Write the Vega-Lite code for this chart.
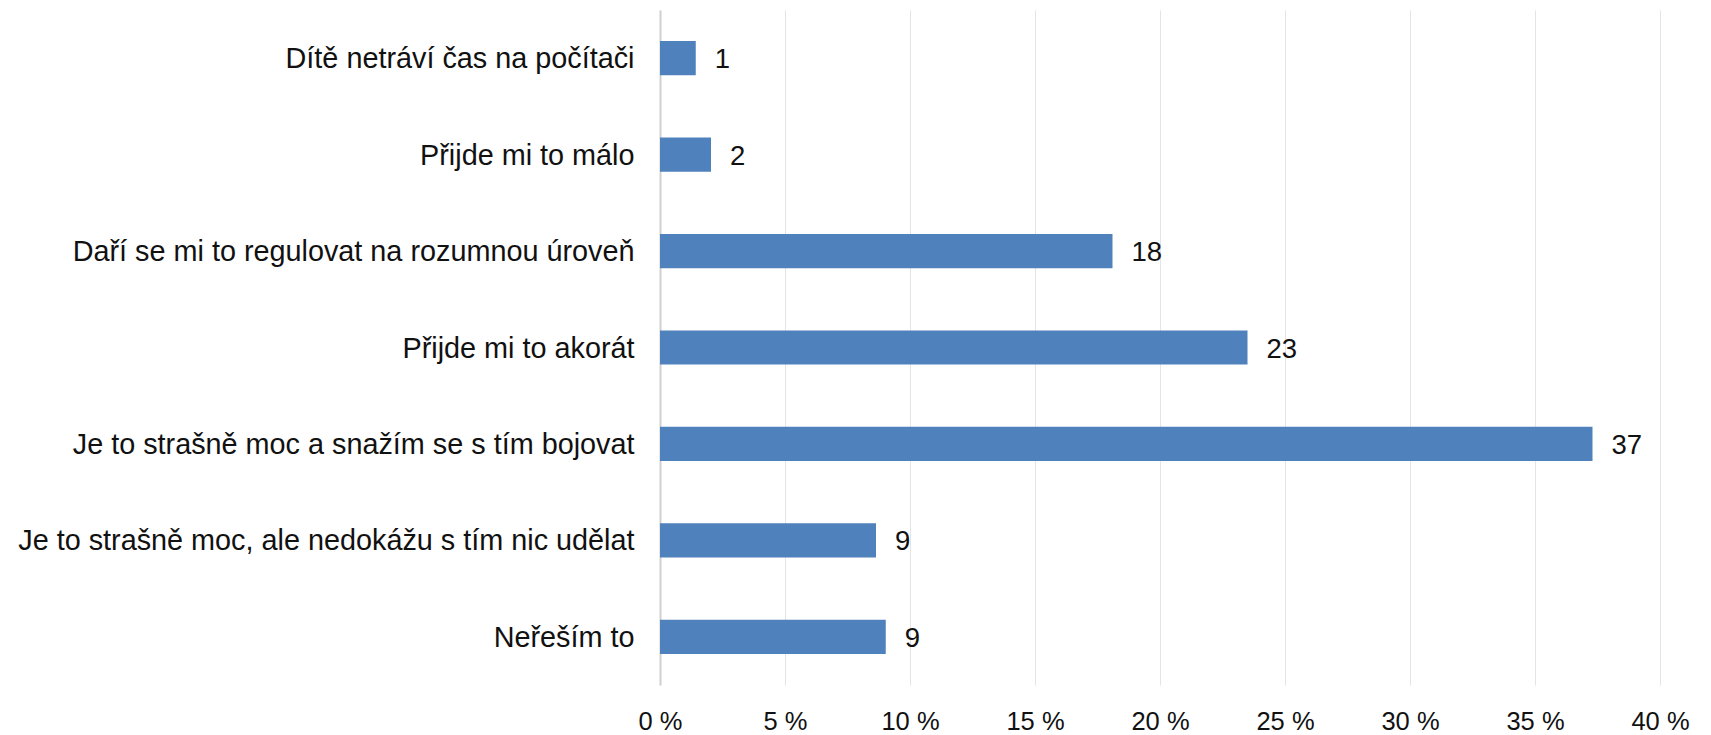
{
  "$schema": "https://vega.github.io/schema/vega-lite/v6.json",
  "width": 1000,
  "height": 675,
  "autosize": {"type": "none"},
  "padding": {"left": 660, "top": 10, "right": 51, "bottom": 50},
  "background": "white",
  "config": {
    "view": {"stroke": null},
    "font": "Liberation Sans"
  },
  "data": {
    "values": [
      {"kategorie": "Dítě netráví čas na počítači", "pct": 1.43, "label": "1"},
      {"kategorie": "Přijde mi to málo", "pct": 2.04, "label": "2"},
      {"kategorie": "Daří se mi to regulovat na rozumnou úroveň", "pct": 18.1, "label": "18"},
      {"kategorie": "Přijde mi to akorát", "pct": 23.5, "label": "23"},
      {"kategorie": "Je to strašně moc a snažím se s tím bojovat", "pct": 37.3, "label": "37"},
      {"kategorie": "Je to strašně moc, ale nedokážu s tím nic udělat", "pct": 8.64, "label": "9"},
      {"kategorie": "Neřeším to", "pct": 9.03, "label": "9"}
    ]
  },
  "encoding": {
    "y": {
      "field": "kategorie",
      "type": "nominal",
      "sort": null,
      "scale": {"paddingInner": 0, "paddingOuter": 0},
      "axis": {
        "title": null,
        "ticks": false,
        "domain": true,
        "domainColor": "#d0d0d0",
        "domainWidth": 2,
        "labelFontSize": 28.8,
        "labelColor": "#111111",
        "labelPadding": 26,
        "labelLimit": 700,
        "labelOffset": 1
      }
    },
    "x": {
      "field": "pct",
      "type": "quantitative",
      "scale": {"domain": [0, 40], "nice": false},
      "axis": {
        "title": null,
        "values": [0, 5, 10, 15, 20, 25, 30, 35, 40],
        "labelExpr": "datum.value + ' %'",
        "ticks": false,
        "domain": false,
        "grid": true,
        "gridColor": "#e4e4e4",
        "gridWidth": 1,
        "labelFontSize": 25.5,
        "labelColor": "#111111",
        "labelPadding": 24,
        "labelFlush": false
      }
    }
  },
  "layer": [
    {
      "mark": {"type": "bar", "color": "#4f81bd", "height": {"band": 0.355}}
    },
    {
      "mark": {"type": "text", "align": "left", "baseline": "middle", "dx": 19, "dy": 2, "fontSize": 27.5, "color": "#111111"},
      "encoding": {"text": {"field": "label"}}
    }
  ]
}
